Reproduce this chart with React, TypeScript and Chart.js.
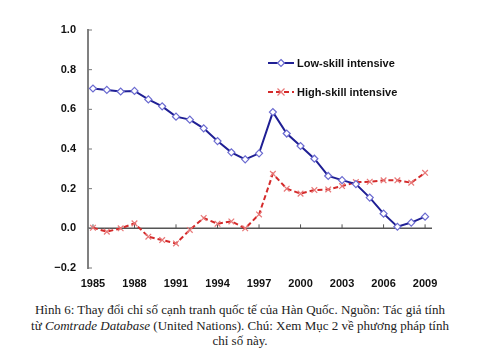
import React, { useEffect, useRef } from "react";
import { Chart, registerables } from "chart.js";

Chart.register(...registerables);

const years = [1985, 1986, 1987, 1988, 1989, 1990, 1991, 1992, 1993, 1994, 1995, 1996, 1997, 1998, 1999, 2000, 2001, 2002, 2003, 2004, 2005, 2006, 2007, 2008, 2009];
const lowSkill = [0.705, 0.698, 0.69, 0.693, 0.65, 0.615, 0.563, 0.548, 0.504, 0.44, 0.383, 0.348, 0.378, 0.586, 0.478, 0.415, 0.351, 0.264, 0.243, 0.223, 0.155, 0.074, 0.008, 0.029, 0.059];
const highSkill = [0.003, -0.017, 0.0, 0.025, -0.042, -0.059, -0.076, -0.008, 0.052, 0.023, 0.035, 0.0, 0.07, 0.275, 0.2, 0.175, 0.193, 0.196, 0.213, 0.233, 0.235, 0.242, 0.242, 0.23, 0.28];
const xTickYears = [1985, 1988, 1991, 1994, 1997, 2000, 2003, 2006, 2009];
const yTickValues = [-0.2, 0, 0.2, 0.4, 0.6, 0.8, 1.0];
const seriesNames = ["Low-skill intensive", "High-skill intensive"];

const BLUE = "#1f1f94";
const BLUE_MARK = "#6a6ad0";
const RED = "#d42a2a";
const RED_MARK = "#e87878";
const FONT = "'Liberation Sans', Arial, sans-serif";

const decoPlugin = {
  id: "deco",
  beforeDatasetsDraw(chart: any) {
    const { ctx, chartArea, scales } = chart;
    const y0 = scales.y.getPixelForValue(0);
    ctx.save();
    ctx.strokeStyle = "#555555";
    ctx.lineWidth = 1.5;
    ctx.beginPath();
    ctx.moveTo(chartArea.left, y0);
    ctx.lineTo(chartArea.right, y0);
    ctx.stroke();
    ctx.lineWidth = 1;
    xTickYears.forEach((yr) => {
      const x = scales.x.getPixelForValue(yr);
      ctx.beginPath();
      ctx.moveTo(x, y0);
      ctx.lineTo(x, y0 - 4);
      ctx.stroke();
    });
    ctx.strokeStyle = "#777777";
    yTickValues.forEach((v) => {
      const y = scales.y.getPixelForValue(v);
      ctx.beginPath();
      ctx.moveTo(chartArea.left, y);
      ctx.lineTo(chartArea.left + 4, y);
      ctx.stroke();
    });
    ctx.restore();
  },
  afterDraw(chart: any) {
    const { ctx, chartArea } = chart;
    const x0 = chartArea.left + 180;
    const rows = [chartArea.top + 33, chartArea.top + 62];
    ctx.save();
    rows.forEach((y, i) => {
      const ds = chart.data.datasets[i];
      ctx.strokeStyle = ds.borderColor;
      ctx.lineWidth = 2;
      ctx.setLineDash(ds.borderDash || []);
      ctx.beginPath();
      ctx.moveTo(x0, y);
      ctx.lineTo(x0 + 26, y);
      ctx.stroke();
      ctx.setLineDash([]);
      const mx = x0 + 13;
      if (i === 0) {
        ctx.fillStyle = "#ffffff";
        ctx.strokeStyle = BLUE_MARK;
        ctx.lineWidth = 1.2;
        ctx.beginPath();
        ctx.moveTo(mx, y - 3.5);
        ctx.lineTo(mx + 3.5, y);
        ctx.lineTo(mx, y + 3.5);
        ctx.lineTo(mx - 3.5, y);
        ctx.closePath();
        ctx.fill();
        ctx.stroke();
      } else {
        ctx.strokeStyle = RED_MARK;
        ctx.lineWidth = 1.2;
        ctx.beginPath();
        ctx.moveTo(mx - 3.5, y - 3.5);
        ctx.lineTo(mx + 3.5, y + 3.5);
        ctx.moveTo(mx + 3.5, y - 3.5);
        ctx.lineTo(mx - 3.5, y + 3.5);
        ctx.stroke();
      }
      ctx.fillStyle = "#111111";
      ctx.font = `bold 11px ${FONT}`;
      ctx.textBaseline = "middle";
      ctx.textAlign = "left";
      ctx.fillText(seriesNames[i], x0 + 29, y + 1);
    });
    ctx.restore();
  },
};

export default function App() {
  const canvasRef = useRef<HTMLCanvasElement | null>(null);

  useEffect(() => {
    document.body.style.margin = "0";
    const canvas = canvasRef.current;
    if (!canvas) return;
    const chart = new Chart(canvas, {
      type: "line",
      data: {
        datasets: [
          {
            label: seriesNames[0],
            data: years.map((yr, i) => ({ x: yr, y: lowSkill[i] })),
            borderColor: BLUE,
            borderWidth: 2,
            pointStyle: "rectRot",
            pointRadius: 3.5,
            pointBackgroundColor: "#ffffff",
            pointBorderColor: BLUE_MARK,
            pointBorderWidth: 1.2,
            tension: 0,
          },
          {
            label: seriesNames[1],
            data: years.map((yr, i) => ({ x: yr, y: highSkill[i] })),
            borderColor: RED,
            borderWidth: 2,
            borderDash: [5, 3],
            pointStyle: "crossRot",
            pointRadius: 4,
            pointBorderColor: RED_MARK,
            pointBorderWidth: 1.2,
            tension: 0,
          },
        ],
      },
      options: {
        responsive: false,
        animation: false,
        devicePixelRatio: 1,
        layout: { padding: { top: 30, right: 48, bottom: 0, left: 0 } },
        plugins: { legend: { display: false }, tooltip: { enabled: false } },
        scales: {
          x: {
            type: "linear",
            min: 1984.64,
            max: 2009.5,
            afterBuildTicks: (scale: any) => {
              scale.ticks = xTickYears.map((v) => ({ value: v }));
            },
            afterFit: (scale: any) => {
              scale.height = 27;
            },
            grid: { display: false, drawTicks: false },
            border: { display: false },
            ticks: {
              autoSkip: false,
              maxRotation: 0,
              padding: 9,
              color: "#111111",
              font: { family: FONT, size: 11, weight: "bold" },
              callback: (v: any) => String(v),
            },
          },
          y: {
            min: -0.2,
            max: 1.0,
            afterBuildTicks: (scale: any) => {
              scale.ticks = yTickValues.map((v) => ({ value: v }));
            },
            afterFit: (scale: any) => {
              scale.width = 88;
            },
            grid: { display: false, drawTicks: false },
            border: { display: true, color: "#808080", width: 2 },
            ticks: {
              padding: 12,
              color: "#111111",
              font: { family: FONT, size: 11, weight: "bold" },
              callback: (v: any) => {
                const n = Number(v);
                const s = Math.abs(n).toFixed(1);
                return n < -1e-9 ? "\u2212" + s : s;
              },
            },
          },
        },
      },
      plugins: [decoPlugin],
    });
    return () => chart.destroy();
  }, []);

  return (
    <div style={{ position: "relative", width: 480, height: 364, background: "#ffffff", overflow: "hidden" }}>
      <canvas ref={canvasRef} width={480} height={295} style={{ position: "absolute", left: 0, top: 0, width: 480, height: 295 }} />
      <div
        style={{
          position: "absolute",
          left: 0,
          top: 302,
          width: 480,
          textAlign: "center",
          fontFamily: "'Liberation Serif', 'Times New Roman', serif",
          fontSize: 13,
          lineHeight: "15.5px",
          color: "#222222",
        }}
      >
        Hình 6: Thay đổi chỉ số cạnh tranh quốc tế của Hàn Quốc. Nguồn: Tác giả tính
        <br />
        từ <i>Comtrade Database</i> (United Nations). Chú: Xem Mục 2 về phương pháp tính
        <br />
        chỉ số này.
      </div>
    </div>
  );
}
